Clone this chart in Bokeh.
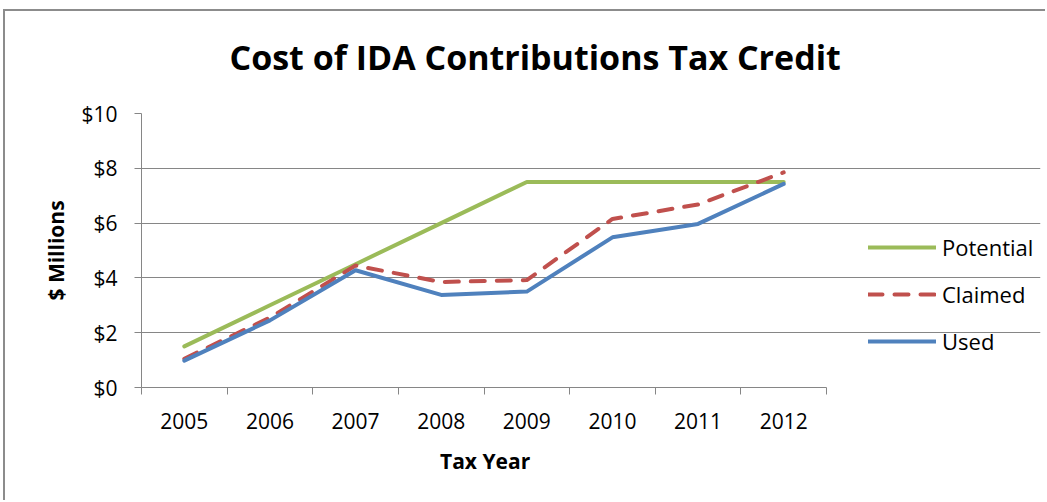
from bokeh.plotting import figure
from bokeh.models import (Range1d, LinearAxis, FixedTicker, Legend, LegendItem,
                          ColumnDataSource, Title)
from bokeh.embed import file_html
from bokeh.resources import INLINE

years = ["2005", "2006", "2007", "2008", "2009", "2010", "2011", "2012"]
potential = [1.5, 3.0, 4.5, 6.0, 7.5, 7.5, 7.5, 7.5]
claimed = [1.05, 2.55, 4.45, 3.85, 3.92, 6.15, 6.68, 7.85]
used = [0.98, 2.45, 4.28, 3.38, 3.5, 5.48, 5.97, 7.43]
y_ticks = [0, 2, 4, 6, 8, 10]
y_tick_labels = ["$0", "$2", "$4", "$6", "$8", "$10"]

n = len(years)
xpos = [i + 0.5 for i in range(n)]
bounds = list(range(n + 1))
src = ColumnDataSource(dict(x=xpos, year=years, potential=potential,
                            claimed=claimed, used=used))

GRAY = "#868686"
FONT = "Open Sans"

# layout (pixels)
W, H = 1045, 500
B_LEFT, B_RIGHT, B_TOP, B_BOTTOM = 141, 5, 113, 113
PLOT_W = 685  # width of the area holding the categories
frame_w = W - B_LEFT - B_RIGHT
x_end = n * frame_w / PLOT_W  # extra frame room on the right holds the legend

p = figure(width=W, height=H, output_backend="svg", toolbar_location=None,
           x_range=Range1d(0, x_end), y_range=Range1d(0, 10),
           x_axis_type=None, min_border_left=B_LEFT, min_border_right=B_RIGHT,
           min_border_top=B_TOP, min_border_bottom=B_BOTTOM)
# chart-area frame lines (top and left) drawn behind a transparent canvas
p.styles = {
    "margin": "0px",
    "background": ("linear-gradient(#8c8c8c, #8c8c8c) 3px 9px / 2px calc(100% - 9px) no-repeat, "
                   "linear-gradient(#8c8c8c, #8c8c8c) 3px 9px / calc(100% - 3px) 2px no-repeat, "
                   "white"),
}
p.outline_line_color = None
p.background_fill_color = "white"
p.border_fill_alpha = 0

# title
p.title.text = "Cost of IDA Contributions Tax Credit"
p.title.text_font = FONT
p.title.text_font_size = "34px"
p.title.text_font_style = "bold"
p.title.align = "left"
p.title.vertical_align = "top"
p.title.offset = 88
p.title.standoff = 63
p.title.text_color = "black"

# y axis
ya = p.yaxis[0]
ya.ticker = FixedTicker(ticks=y_ticks)
ya.major_label_overrides = {t: l for t, l in zip(y_ticks, y_tick_labels)}
ya.major_label_text_font = FONT
ya.major_label_text_font_size = "21px"
ya.major_label_text_color = "black"
ya.major_tick_out = 7
ya.major_tick_in = 0
ya.minor_tick_line_color = None
ya.major_tick_line_color = GRAY
ya.axis_line_color = GRAY
ya.major_label_standoff = 17
ya.axis_label = "$ Millions"
ya.axis_label_text_font = FONT
ya.axis_label_text_font_size = "21px"
ya.axis_label_text_font_style = "bold"
ya.axis_label_text_color = "black"
ya.axis_label_standoff = 8

p.ygrid.grid_line_color = GRAY
p.ygrid.ticker = FixedTicker(ticks=y_ticks)
p.ygrid.bounds = (0, n)

# x axis: labels at category centres, tick marks at category boundaries
xa = LinearAxis(ticker=FixedTicker(ticks=xpos, minor_ticks=bounds),
                bounds=(0, n),
                major_label_overrides={x: y for x, y in zip(xpos, years)},
                axis_line_color=GRAY, major_tick_line_color=None,
                major_tick_out=7, major_tick_in=0,
                minor_tick_line_color=GRAY, minor_tick_out=7, minor_tick_in=0,
                major_label_standoff=18,
                major_label_text_font=FONT, major_label_text_font_size="21px",
                major_label_text_color="black")
p.add_layout(xa, "below")

# x axis title, centred under the category area
xtitle = Title(text="Tax Year", text_font=FONT, text_font_size="21px",
               text_font_style="bold", text_color="black", align="left",
               vertical_align="top", offset=PLOT_W / 2 - 44, standoff=30)
p.add_layout(xtitle, "below")

r_pot = p.line("x", "potential", source=src, line_color="#9BBB59",
               line_width=4, line_cap="round", line_join="round")
r_cla = p.line("x", "claimed", source=src, line_color="#C0504D",
               line_width=4, line_dash="14 12", line_cap="round",
               line_join="round")
r_use = p.line("x", "used", source=src, line_color="#4F81BD",
               line_width=4, line_cap="round", line_join="round")

legend = Legend(items=[LegendItem(label="Potential", renderers=[r_pot]),
                       LegendItem(label="Claimed", renderers=[r_cla]),
                       LegendItem(label="Used", renderers=[r_use])],
                location=(727, 31), orientation="vertical",
                glyph_width=68, glyph_height=26, label_height=26,
                spacing=17, label_standoff=6, padding=0, margin=0,
                border_line_color=None, background_fill_alpha=0,
                label_text_font=FONT, label_text_font_size="22px",
                label_text_color="black")
p.add_layout(legend, "center")

open("out.html", "w").write(file_html(p, INLINE))
